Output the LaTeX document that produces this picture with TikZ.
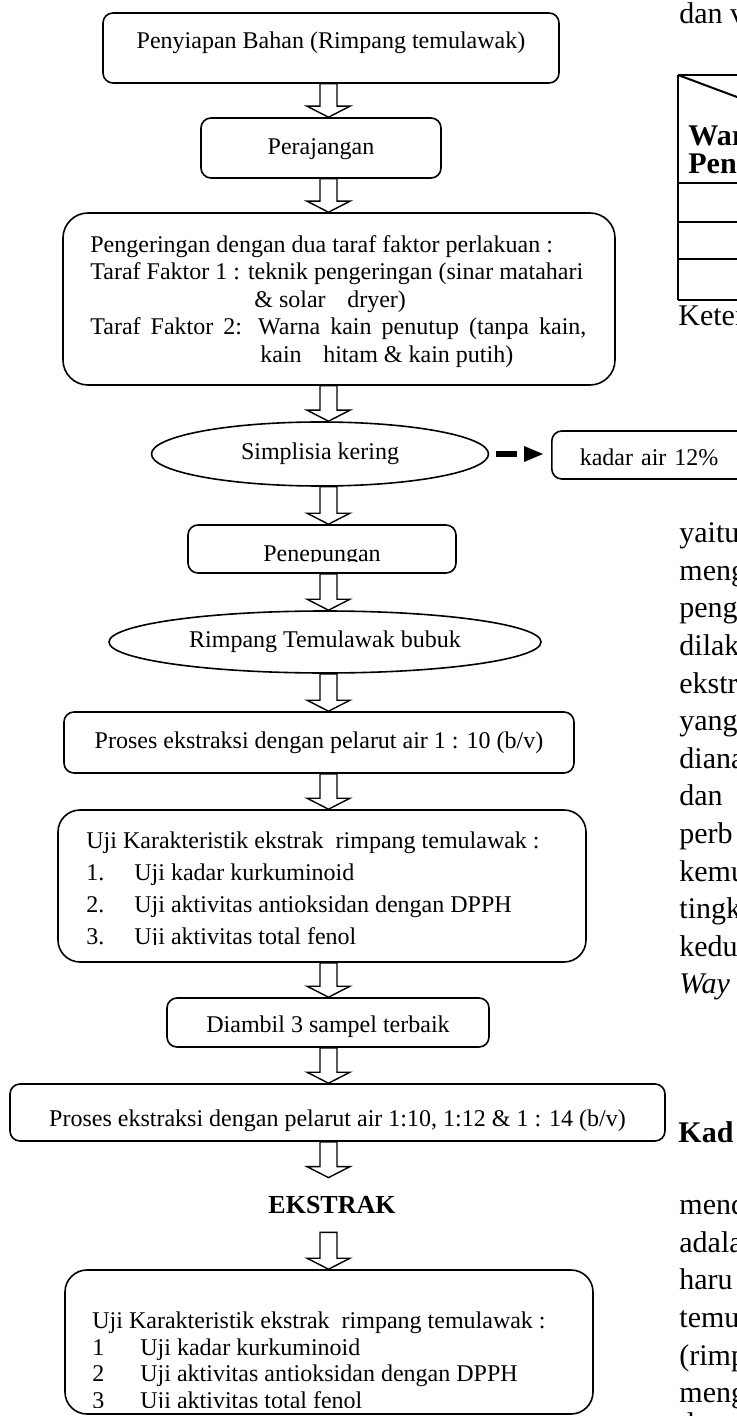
\documentclass[tikz,border=0pt]{standalone}
\usepackage{fontspec}
\setmainfont{Liberation Serif}
\usetikzlibrary{calc,shapes.geometric}
\newcommand\dfont{\fontsize{12}{14}\selectfont}
\newcommand\bfont{\fontsize{15}{18}\selectfont}
\tikzset{
  pbox/.style={draw, line width=0.8pt, rounded corners=5pt, inner sep=0pt,
    font=\dfont, text height=9pt, text depth=2.7pt},
  bigbox/.style={pbox, rounded corners=11pt},
  oval/.style={draw, ellipse, line width=0.8pt, inner sep=0pt, font=\dfont},
  dtxt/.style={inner sep=0pt, anchor=base west, font=\dfont},
  btxt/.style={inner sep=0pt, anchor=base west, font=\bfont},
  blockarrow/.style={draw, line width=0.7pt, fill=white, line join=miter},
  tline/.style={line width=1pt},
}
\newcommand\blockarr[2]{%
  \draw[blockarrow] let \p1=(#1.south -| acol), \p2=(#2.north -| acol) in
   (\x1-4.25pt,\y1) -- (\x1+4.25pt,\y1) -- (\x1+4.25pt,\y2+5.5pt) --
   (\x1+10.75pt,\y2+5.5pt) -- (\x2,\y2) -- (\x1-10.75pt,\y2+5.5pt) --
   (\x1-4.25pt,\y2+5.5pt) -- cycle;}
\begin{document}
\begin{tikzpicture}[x=0.5pt,y=-0.5pt]
\useasboundingbox (0,0) rectangle (737,1416);
\clip (0,0) rectangle (737,1416);
\coordinate (acol) at (328.5,0);

% ---- flow chart nodes
\node[pbox, minimum width=228pt, minimum height=35pt, text depth=8.6pt] (b1) at (331,48) {Penyiapan Bahan (Rimpang temulawak)};
\node[pbox, minimum width=120pt, minimum height=30pt] (b2) at (321,148) {Perajangan};
\node[pbox, rounded corners=12.5pt, minimum width=276pt, minimum height=86pt] (b3) at (339,299) {};
\node[dtxt] (l31) at (90,252.4) {Pengeringan dengan dua taraf faktor perlakuan :};
\node[dtxt] (l32) at (90,279.9) {Taraf Faktor 1 : teknik pengeringan (sinar matahari};
\node[dtxt] (l33) at (254,307.4) {\& solar\hspace{0.9em}dryer)};
\node[dtxt] (l34) at (90,334.9) {\makebox[248pt][s]{Taraf Faktor 2: Warna kain penutup (tanpa kain,}};
\node[dtxt] (l35) at (260,362.4) {kain\hspace{0.9em}hitam \& kain putih)};

\node[oval, minimum width=168.5pt, minimum height=32pt] (e1) at (320,454) {Simplisia kering};
\node[pbox, anchor=west, minimum height=24pt, text width=100pt, align=left, inner xsep=14pt, text height=13.1pt] (kd) at (551,455) {kadar air 12\%};

\node[pbox, minimum width=134pt, minimum height=24pt] (b4) at (322,549) {};
\begin{scope}
  \clip (b4.north west) rectangle (456,561.5);
  \node[dtxt, anchor=base] (tpen) at (322,561) {Penepungan};
\end{scope}

\node[oval, minimum width=216pt, minimum height=31pt] (e2) at (325,642) {Rimpang Temulawak bubuk};
\node[pbox, minimum width=255pt, minimum height=30.5pt] (b5) at (319,742.5) {Proses ekstraksi dengan pelarut air 1 : 10 (b/v)};

\node[bigbox, minimum width=264pt, minimum height=76pt] (b6) at (322,886) {};
\begin{scope}
  \clip (60,812) rectangle (584,944.5);
  \node[dtxt] (u1h) at (86,848.4) {Uji Karakteristik ekstrak\ \ rimpang temulawak :};
  \node[dtxt] (u1n1) at (86,880.4) {1.};
  \node[dtxt] (u1t1) at (134,880.4) {Uji kadar kurkuminoid};
  \node[dtxt] (u1n2) at (86,912.4) {2.};
  \node[dtxt] (u1t2) at (134,912.4) {Uji aktivitas antioksidan dengan DPPH};
  \node[dtxt] (u1n3) at (86,944) {3.};
  \node[dtxt] (u1t3) at (134,944) {Uji aktivitas total fenol};
\end{scope}

\node[pbox, minimum width=161pt, minimum height=24.5pt, text height=12.6pt] (b7) at (328,1022.5) {Diambil 3 sampel terbaik};
\node[pbox, minimum width=327.5pt, minimum height=28.5pt, text height=17.1pt] (b8) at (337.5,1112.5) {Proses ekstraksi dengan pelarut air 1:10, 1:12 \& 1 : 14 (b/v)};
\node[inner sep=0pt, minimum height=27pt, font=\fontsize{13}{15}\selectfont\bfseries] (ek) at (332,1205) {EKSTRAK};

\node[bigbox, minimum width=264pt, minimum height=72pt] (b9) at (329,1342) {};
\begin{scope}
  \clip (67,1272) rectangle (591,1407.5);
  \node[dtxt] (u2h) at (92,1328) {Uji Karakteristik ekstrak\ \ rimpang temulawak :};
  \node[dtxt] (u2n1) at (92,1355) {1};
  \node[dtxt] (u2t1) at (140,1355) {Uji kadar kurkuminoid};
  \node[dtxt] (u2n2) at (92,1381.5) {2};
  \node[dtxt] (u2t2) at (140,1381.5) {Uji aktivitas antioksidan dengan DPPH};
  \node[dtxt] (u2n3) at (92,1408) {3};
  \node[dtxt] (u2t3) at (140,1408) {Uji aktivitas total fenol};
\end{scope}

% ---- block arrows
\blockarr{b1}{b2}
\blockarr{b2}{b3}
\blockarr{b3}{e1}
\blockarr{e1}{b4}
\blockarr{b4}{e2}
\blockarr{e2}{b5}
\blockarr{b5}{b6}
\blockarr{b6}{b7}
\blockarr{b7}{b8}
\blockarr{b8}{ek}
\blockarr{ek}{b9}

% ---- side arrow to kadar air
\draw[line width=3pt, dash pattern=on 10.5pt off 40pt, shorten <=3.5pt, shorten >=13.5pt]
  (e1.east) -- (e1.east -| kd.west);
\fill let \p1=(e1.east -| kd.west) in
  (\x1-13.5pt,\y1+4pt) -- (\x1-4pt,\y1) -- (\x1-13.5pt,\y1-4pt) -- cycle;

% ---- page content on the right (cut off at the edge)
\node[btxt] (r0) at (679,24) {dan v};
\draw[tline] (678,75) -- (678,300);
\draw[tline] (678,75) -- (745,75);
\draw[tline] (678,75) -- (760,105.6);
\draw[tline] (678,183) -- (745,183);
\draw[tline] (678,222) -- (745,222);
\draw[tline] (678,259) -- (745,259);
\draw[tline] (678,300) -- (745,300);
\node[btxt, font=\fontsize{15}{18}\selectfont\bfseries] (tw) at (688,146) {War};
\node[btxt, font=\fontsize{15}{18}\selectfont\bfseries] (tp) at (688,174) {Pen};
\node[btxt] (kt) at (678,326) {Keter};

\node[btxt] (p1) at (679,542.7) {yaitu};
\node[btxt] (p2) at (679,580.3) {meng};
\node[btxt] (p3) at (679,617.9) {peng};
\node[btxt] (p4) at (679,655.5) {dilak};
\node[btxt] (p5) at (679,693.1) {ekstr};
\node[btxt] (p6) at (679,730.7) {yang};
\node[btxt] (p7) at (679,768.3) {diana};
\node[btxt] (p8) at (679,805.9) {dan};
\node[btxt] (p9) at (679,843.5) {perb};
\node[btxt] (p10) at (679,881.1) {kemu};
\node[btxt] (p11) at (679,918.7) {tingk};
\node[btxt] (p12) at (679,956.3) {kedu};
\node[btxt, font=\bfont\itshape] (p13) at (679,993.9) {Way};

\node[btxt, font=\bfont\bfseries] (q0) at (678,1142) {Kad};
\node[btxt] (q1) at (679,1214.7) {mend};
\node[btxt] (q2) at (679,1252.3) {adala};
\node[btxt] (q3) at (679,1289.9) {haru};
\node[btxt] (q4) at (679,1327.5) {temu};
\node[btxt] (q5) at (679,1365.1) {(rimp};
\node[btxt] (q6) at (679,1402.7) {meng};
\node[btxt] (q7) at (679,1433) {d};
\end{tikzpicture}
\end{document}
